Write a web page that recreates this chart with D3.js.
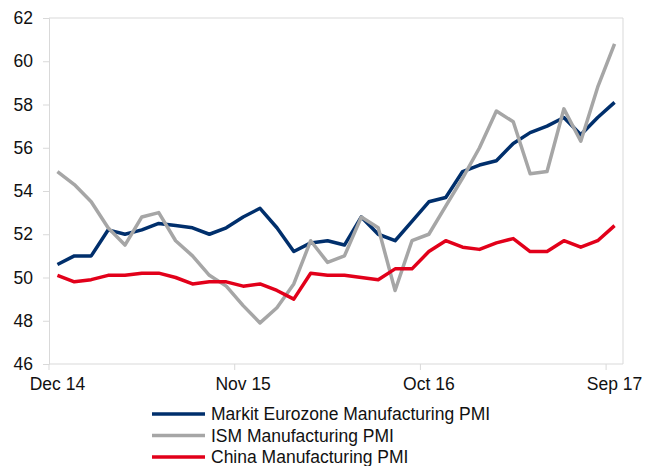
<!DOCTYPE html>
<html lang="en">
<head>
    <meta charset="UTF-8">
    <title>Manufacturing PMI</title>
    <style>
        body { margin: 0; background: #fff; }
        text { font-family: "Liberation Sans", Arial, sans-serif; fill: #111; }
    </style>
</head>
<body>
<svg id="chart" width="646" height="466"></svg>
<script src="https://d3js.org/d3.v7.min.js"></script>
<script>
    /* global d3 */

    // months Dec 14 .. Sep 17
    let months = ["Dec 14", "Jan 15", "Feb 15", "Mar 15", "Apr 15", "May 15", "Jun 15", "Jul 15",
        "Aug 15", "Sep 15", "Oct 15", "Nov 15", "Dec 15", "Jan 16", "Feb 16", "Mar 16", "Apr 16",
        "May 16", "Jun 16", "Jul 16", "Aug 16", "Sep 16", "Oct 16", "Nov 16", "Dec 16", "Jan 17",
        "Feb 17", "Mar 17", "Apr 17", "May 17", "Jun 17", "Jul 17", "Aug 17", "Sep 17"];

    let eurozone = [50.6, 51.0, 51.0, 52.2, 52.0, 52.2, 52.5, 52.4, 52.3, 52.0, 52.3, 52.8, 53.2,
        52.3, 51.2, 51.6, 51.7, 51.5, 52.8, 52.0, 51.7, 52.6, 53.5, 53.7, 54.9, 55.2, 55.4, 56.2,
        56.7, 57.0, 57.4, 56.6, 57.4, 58.1];

    let ism = [54.9, 54.3, 53.5, 52.3, 51.5, 52.8, 53.0, 51.7, 51.0, 50.1, 49.6, 48.7, 47.9,
        48.6, 49.7, 51.7, 50.7, 51.0, 52.8, 52.3, 49.4, 51.7, 52.0, 53.3, 54.6, 56.0, 57.7, 57.2,
        54.8, 54.9, 57.8, 56.3, 58.8, 60.8];

    let china = [50.1, 49.8, 49.9, 50.1, 50.1, 50.2, 50.2, 50.0, 49.7, 49.8, 49.8, 49.6, 49.7,
        49.4, 49.0, 50.2, 50.1, 50.1, 50.0, 49.9, 50.4, 50.4, 51.2, 51.7, 51.4, 51.3, 51.6, 51.8,
        51.2, 51.2, 51.7, 51.4, 51.7, 52.4];

    let tickLabels = ["Dec 14", "Nov 15", "Oct 16", "Sep 17"];
    let yTicks = [46, 48, 50, 52, 54, 56, 58, 60, 62];

    let series = [
        {name: "Markit Eurozone Manufacturing PMI", values: eurozone, color: "#002f6c"},
        {name: "ISM Manufacturing PMI", values: ism, color: "#a6a6a6"},
        {name: "China Manufacturing PMI", values: china, color: "#e2001a"}
    ];

    let svg = d3.select("#chart"),
        plotLeft = 49, plotRight = 623, plotTop = 18, plotBottom = 364,
        axisColor = "#d9d9d9",
        fontSize = "17.5px";

    let x = d3.scaleBand().domain(months).range([plotLeft, plotRight]);
    let y = d3.scaleLinear().domain([46, 62]).range([plotBottom, plotTop]);

    // plot border (top and right)
    svg.append("path")
        .attr("d", `M${plotLeft},${plotTop}H${plotRight}V${plotBottom}`)
        .attr("fill", "none")
        .attr("stroke", axisColor)
        .attr("stroke-width", 1);

    // y axis
    let yAxis = svg.append("g")
        .attr("transform", `translate(${plotLeft},0)`)
        .call(d3.axisLeft(y).tickValues(yTicks).tickSize(6).tickPadding(10));
    yAxis.select(".domain").attr("stroke", axisColor);
    yAxis.selectAll(".tick line").attr("stroke", axisColor);
    yAxis.selectAll("text").style("font-size", fontSize).attr("fill", "#111");

    // x axis: ticks on category boundaries, labels at category centres
    let xg = svg.append("g").attr("transform", `translate(0,${plotBottom})`);
    xg.append("line")
        .attr("x1", plotLeft).attr("x2", plotRight)
        .attr("stroke", axisColor);
    xg.selectAll("line.tk")
        .data(tickLabels)
        .join("line")
        .attr("class", "tk")
        .attr("x1", d => x(d)).attr("x2", d => x(d))
        .attr("y1", 0).attr("y2", 6)
        .attr("stroke", axisColor);
    xg.selectAll("text")
        .data(tickLabels)
        .join("text")
        .attr("x", d => x(d) + x.bandwidth() / 2)
        .attr("y", 26)
        .attr("text-anchor", "middle")
        .style("font-size", fontSize)
        .text(d => d);

    // lines
    let line = d3.line()
        .x((d, i) => x(months[i]) + x.bandwidth() / 2)
        .y(d => y(d));

    svg.selectAll("path.series")
        .data(series)
        .join("path")
        .attr("class", "series")
        .attr("d", d => line(d.values))
        .attr("fill", "none")
        .attr("stroke", d => d.color)
        .attr("stroke-width", 3.5)
        .attr("stroke-linejoin", "round");

    // legend
    let legend = svg.selectAll("g.legend")
        .data(series)
        .join("g")
        .attr("class", "legend")
        .attr("transform", (d, i) => `translate(152,${414 + i * 21.5})`);
    legend.append("line")
        .attr("x1", 0).attr("x2", 53)
        .attr("stroke", d => d.color)
        .attr("stroke-width", 3.5);
    legend.append("text")
        .attr("x", 59)
        .attr("dy", "0.36em")
        .style("font-size", fontSize)
        .text(d => d.name);
</script>
</body>
</html>
